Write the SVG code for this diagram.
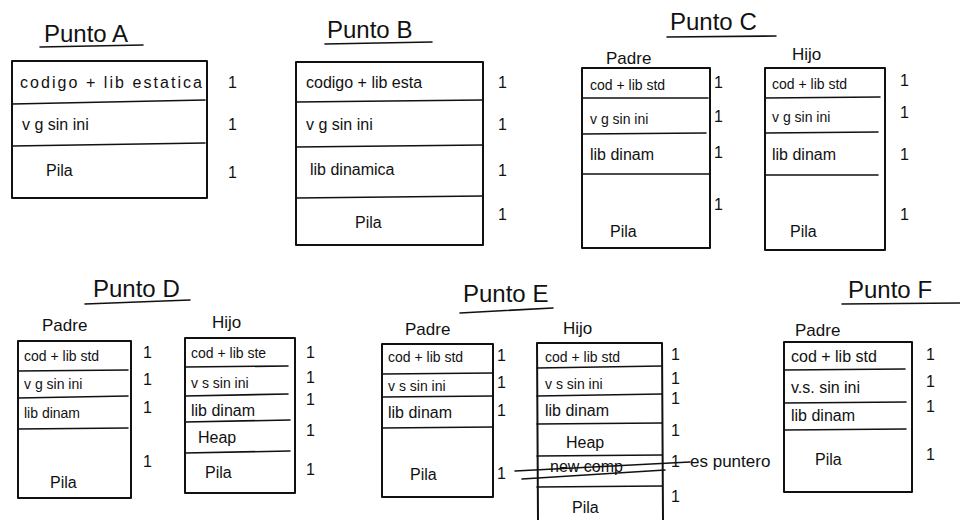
<svg xmlns="http://www.w3.org/2000/svg" width="960" height="520" viewBox="0 0 960 520">
<style>
.bg{fill:#fff}
.box{fill:none;stroke:#111;stroke-width:2;stroke-linejoin:round}
.ln{fill:none;stroke:#111;stroke-width:1.6;stroke-linecap:round}
.t{font-family:"Liberation Sans","DejaVu Sans",sans-serif;font-size:16px;fill:#111}
.s{font-size:14px}
.title{font-size:24px}
.lab{font-size:17px}
.one{font-family:"Liberation Sans","DejaVu Sans",sans-serif;font-size:16px;fill:#111}
</style>
<rect class="bg" x="0" y="0" width="960" height="520"/>

<g id="puntoA">
  <text class="t title" x="44" y="42">Punto A</text>
  <path class="ln" d="M40,47 L143,45"/>
  <rect class="box" x="12" y="61" width="195" height="137"/>
  <path class="ln" d="M12,104 L205,100 M12,146 L205,143"/>
  <text class="t" x="20" y="88" textLength="182" lengthAdjust="spacing">codigo + lib estatica</text>
  <text class="t" x="22" y="130">v g sin ini</text>
  <text class="t" x="46" y="176">Pila</text>
  <text class="one" x="228" y="88">1</text>
  <text class="one" x="228" y="130">1</text>
  <text class="one" x="228" y="178">1</text>
</g>

<g id="puntoB">
  <text class="t title" x="327" y="38">Punto B</text>
  <path class="ln" d="M325,44 L432,42"/>
  <rect class="box" x="296" y="62" width="187" height="183"/>
  <path class="ln" d="M296,102 L483,100 M296,147 L483,145 M296,198 L483,196"/>
  <text class="t" x="306" y="88">codigo + lib esta</text>
  <text class="t" x="306" y="130">v g sin ini</text>
  <text class="t" x="310" y="175">lib dinamica</text>
  <text class="t" x="355" y="228">Pila</text>
  <text class="one" x="498" y="88">1</text>
  <text class="one" x="498" y="130">1</text>
  <text class="one" x="498" y="176">1</text>
  <text class="one" x="498" y="220">1</text>
</g>

<g id="puntoC">
  <text class="t title" x="670" y="30">Punto C</text>
  <path class="ln" d="M667,37 L776,36"/>
</g>

<g id="puntoC-padre">
  <text class="t lab" x="606" y="64">Padre</text>
  <rect class="box" x="582" y="68" width="128" height="180"/>
  <path class="ln" d="M582,98 L708,98 M582,134 L706,133 M582,174 L710,174"/>
  <text class="t s" x="590" y="90">cod + lib std</text>
  <text class="t s" x="590" y="124">v g sin ini</text>
  <text class="t" x="590" y="160">lib dinam</text>
  <text class="t" x="610" y="237">Pila</text>
  <text class="one" x="714" y="88">1</text>
  <text class="one" x="714" y="122">1</text>
  <text class="one" x="714" y="158">1</text>
  <text class="one" x="714" y="210">1</text>
</g>

<g id="puntoC-hijo">
  <text class="t lab" x="792" y="60">Hijo</text>
  <rect class="box" x="765" y="68" width="120" height="182"/>
  <path class="ln" d="M765,98 L880,97 M765,133 L878,132 M765,175 L878,175"/>
  <text class="t s" x="772" y="89">cod + lib std</text>
  <text class="t s" x="772" y="122">v g sin ini</text>
  <text class="t" x="772" y="160">lib dinam</text>
  <text class="t" x="790" y="237">Pila</text>
  <text class="one" x="900" y="86">1</text>
  <text class="one" x="900" y="118">1</text>
  <text class="one" x="900" y="160">1</text>
  <text class="one" x="900" y="220">1</text>
</g>

<g id="puntoD">
  <text class="t title" x="93" y="297">Punto D</text>
  <path class="ln" d="M85,304 L190,300"/>
</g>

<g id="puntoD-padre">
  <text class="t lab" x="42" y="331">Padre</text>
  <rect class="box" x="18" y="341" width="113" height="157"/>
  <path class="ln" d="M18,371 L128,370 M18,398 L128,396 M18,429 L128,428"/>
  <text class="t s" x="24" y="361">cod + lib std</text>
  <text class="t s" x="24" y="389">v g sin ini</text>
  <text class="t s" x="24" y="418">lib dinam</text>
  <text class="t" x="50" y="488">Pila</text>
  <text class="one" x="143" y="358">1</text>
  <text class="one" x="143" y="385">1</text>
  <text class="one" x="143" y="413">1</text>
  <text class="one" x="143" y="467">1</text>
</g>

<g id="puntoD-hijo">
  <text class="t lab" x="212" y="328">Hijo</text>
  <rect class="box" x="185" y="338" width="110" height="155"/>
  <path class="ln" d="M185,367 L288,366 M185,396 L288,394 M185,422 L290,420 M185,453 L290,451"/>
  <text class="t s" x="191" y="358">cod + lib ste</text>
  <text class="t s" x="191" y="388">v s sin ini</text>
  <text class="t" x="191" y="416">lib dinam</text>
  <text class="t" x="198" y="443">Heap</text>
  <text class="t" x="205" y="478">Pila</text>
  <text class="one" x="306" y="358">1</text>
  <text class="one" x="306" y="383">1</text>
  <text class="one" x="306" y="405">1</text>
  <text class="one" x="306" y="436">1</text>
  <text class="one" x="306" y="475">1</text>
</g>

<g id="puntoE">
  <text class="t title" x="463" y="302">Punto E</text>
  <path class="ln" d="M460,313 L553,308"/>
</g>

<g id="puntoE-padre">
  <text class="t lab" x="405" y="335">Padre</text>
  <rect class="box" x="382" y="344" width="111" height="153"/>
  <path class="ln" d="M382,374 L493,373 M382,397 L493,396 M382,428 L493,427"/>
  <text class="t s" x="388" y="362">cod + lib std</text>
  <text class="t s" x="388" y="391">v s sin ini</text>
  <text class="t" x="388" y="418">lib dinam</text>
  <text class="t" x="410" y="480">Pila</text>
  <text class="one" x="497" y="361">1</text>
  <text class="one" x="497" y="388">1</text>
  <text class="one" x="497" y="416">1</text>
  <text class="one" x="497" y="479">1</text>
</g>

<g id="puntoE-hijo">
  <text class="t lab" x="563" y="334">Hijo</text>
  <path class="box" d="M538,520 L537,343 L662,343 L663,520"/>
  <path class="ln" d="M537,368 L662,366 M537,396 L662,394 M537,424 L662,423 M537,456 L662,455 M537,487 L662,486"/>
  <text class="t s" x="545" y="362">cod + lib std</text>
  <text class="t s" x="545" y="389">v s sin ini</text>
  <text class="t" x="545" y="416">lib dinam</text>
  <text class="t" x="566" y="448">Heap</text>
  <text class="t" x="550" y="472">new comp</text>
  <path class="ln" d="M515,471 L690,462 M522,479 L665,470"/>
  <text class="t" x="572" y="513">Pila</text>
  <text class="one" x="671" y="360">1</text>
  <text class="one" x="671" y="384">1</text>
  <text class="one" x="671" y="404">1</text>
  <text class="one" x="671" y="436">1</text>
  <text class="one" x="671" y="467">1</text>
  <text class="one" x="671" y="502">1</text>
  <text class="t lab" x="690" y="467">es puntero</text>
</g>

<g id="puntoF">
  <text class="t title" x="848" y="298">Punto F</text>
  <path class="ln" d="M842,304 L960,303"/>
</g>

<g id="puntoF-padre">
  <text class="t lab" x="795" y="336">Padre</text>
  <rect class="box" x="784" y="342" width="128" height="150"/>
  <path class="ln" d="M784,370 L905,369 M784,403 L906,402 M784,430 L906,429"/>
  <text class="t" x="791" y="362">cod + lib std</text>
  <text class="t" x="791" y="393">v.s. sin ini</text>
  <text class="t" x="791" y="421">lib dinam</text>
  <text class="t" x="815" y="465">Pila</text>
  <text class="one" x="926" y="360">1</text>
  <text class="one" x="926" y="387">1</text>
  <text class="one" x="926" y="412">1</text>
  <text class="one" x="926" y="460">1</text>
</g>

<g id="connectors"></g>
</svg>
